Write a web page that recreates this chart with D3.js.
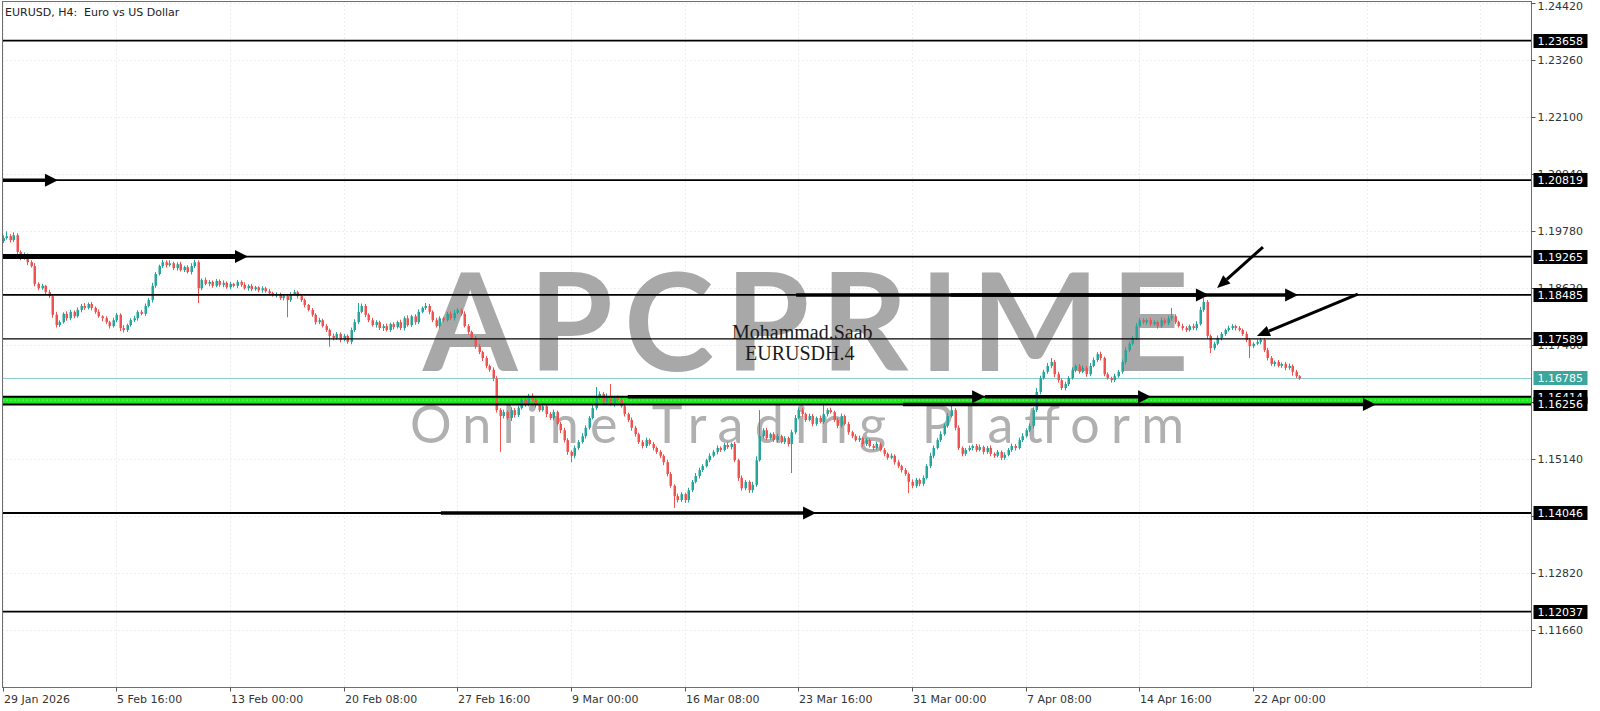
<!DOCTYPE html>
<html lang="en">
<head>
  <meta charset="UTF-8">
  <title>EURUSD H4</title>
  <script src="https://d3js.org/d3.v7.min.js"></script>
  <style>
    body { margin: 0; background: #fff; }
    svg { display: block; }
    text { font-family: "DejaVu Sans", sans-serif; }
  </style>
</head>
<body>
<svg width="1600" height="711"></svg>
<script>

  // closes of the H4 bars, first bar 29 Jan 08:00
  var firstOpen = 1.1958;
  var closes = [
    1.1964,1.1968,1.1960,1.1970,1.1936,1.1924,1.1930,1.1915,1.1907,1.1871,1.1862,1.1867,1.1854,1.1846,1.1808,1.1787,1.1793,1.1810,1.1801,1.1814,
    1.1805,1.1818,1.1826,1.1822,1.1830,1.1822,1.1814,1.1805,1.1801,1.1793,1.1785,1.1797,1.1808,1.1781,1.1777,1.1787,1.1797,1.1801,1.1814,1.1810,
    1.1826,1.1838,1.1867,1.1891,1.1907,1.1915,1.1909,1.1913,1.1903,1.1911,1.1899,1.1905,1.1895,1.1907,1.1915,1.1862,1.1879,1.1871,1.1875,1.1867,
    1.1877,1.1869,1.1873,1.1864,1.1871,1.1867,1.1875,1.1869,1.1862,1.1867,1.1860,1.1864,1.1858,1.1862,1.1856,1.1852,1.1848,1.1850,1.1842,1.1846,
    1.1838,1.1850,1.1854,1.1846,1.1838,1.1828,1.1818,1.1808,1.1793,1.1797,1.1785,1.1777,1.1765,1.1761,1.1769,1.1757,1.1765,1.1753,1.1777,1.1793,
    1.1814,1.1826,1.1808,1.1797,1.1787,1.1793,1.1781,1.1785,1.1777,1.1789,1.1783,1.1793,1.1781,1.1801,1.1787,1.1805,1.1793,1.1814,1.1822,1.1826,
    1.1814,1.1797,1.1785,1.1801,1.1797,1.1810,1.1801,1.1812,1.1818,1.1810,1.1785,1.1773,1.1761,1.1744,1.1732,1.1720,1.1704,1.1696,1.1679,1.1614,
    1.1602,1.1610,1.1598,1.1614,1.1604,1.1618,1.1635,1.1626,1.1643,1.1635,1.1624,1.1614,1.1622,1.1606,1.1598,1.1610,1.1586,1.1573,1.1553,1.1529,
    1.1521,1.1537,1.1549,1.1561,1.1578,1.1598,1.1618,1.1639,1.1647,1.1630,1.1643,1.1626,1.1639,1.1635,1.1622,1.1606,1.1594,1.1578,1.1565,1.1549,
    1.1541,1.1553,1.1545,1.1537,1.1529,1.1521,1.1508,1.1484,1.1460,1.1439,1.1431,1.1443,1.1431,1.1451,1.1468,1.1480,1.1492,1.1500,1.1512,1.1521,
    1.1529,1.1537,1.1533,1.1543,1.1539,1.1545,1.1512,1.1476,1.1455,1.1468,1.1451,1.1462,1.1512,1.1561,1.1573,1.1557,1.1565,1.1553,1.1561,1.1549,
    1.1557,1.1545,1.1569,1.1598,1.1614,1.1606,1.1594,1.1602,1.1586,1.1598,1.1590,1.1606,1.1614,1.1610,1.1594,1.1582,1.1602,1.1586,1.1569,1.1561,
    1.1553,1.1557,1.1545,1.1553,1.1541,1.1537,1.1545,1.1533,1.1525,1.1517,1.1521,1.1508,1.1500,1.1492,1.1484,1.1468,1.1460,1.1472,1.1464,1.1476,
    1.1500,1.1521,1.1537,1.1553,1.1565,1.1582,1.1602,1.1614,1.1578,1.1537,1.1525,1.1533,1.1537,1.1541,1.1533,1.1539,1.1529,1.1537,1.1525,1.1521,
    1.1529,1.1517,1.1523,1.1533,1.1541,1.1537,1.1553,1.1561,1.1573,1.1582,1.1614,1.1651,1.1679,1.1692,1.1704,1.1712,1.1687,1.1675,1.1659,1.1667,
    1.1679,1.1696,1.1704,1.1692,1.1700,1.1687,1.1704,1.1716,1.1728,1.1720,1.1687,1.1679,1.1675,1.1683,1.1692,1.1712,1.1736,1.1749,1.1761,1.1785,
    1.1797,1.1793,1.1797,1.1789,1.1793,1.1785,1.1797,1.1791,1.1801,1.1805,1.1793,1.1785,1.1781,1.1777,1.1785,1.1781,1.1789,1.1818,1.1834,1.1765,
    1.1740,1.1749,1.1761,1.1769,1.1777,1.1781,1.1785,1.1781,1.1777,1.1769,1.1757,1.1744,1.1749,1.1753,1.1757,1.1736,1.1720,1.1708,1.1712,1.1704,
    1.1708,1.1700,1.1704,1.1692,1.1683,1.16785
  ];

  // wicks above / below the body, in pips
  var wickUp = [
    6,10,4,6,4,3,5,3,4,6,3,4,2,5,3,6,4,3,5,4,
    3,5,4,6,3,4,3,5,2,4,3,5,4,3,6,3,4,5,3,4,
    5,4,6,4,3,5,4,6,3,4,5,3,4,6,5,4,3,5,4,3,
    4,3,5,3,4,2,4,3,5,3,4,3,2,4,3,5,3,4,3,4,
    3,4,5,3,4,3,2,4,3,5,3,4,3,5,4,3,4,3,5,6,
    18,5,4,3,5,4,3,4,5,3,4,3,5,4,6,3,4,5,3,6,
    4,3,5,4,3,4,5,6,4,3,5,4,3,4,5,3,4,3,5,4,
    4,5,3,6,4,5,3,6,4,5,3,4,5,3,4,5,3,4,5,4,
    3,5,4,6,5,4,6,22,5,4,5,24,4,5,3,4,3,5,4,3,
    4,5,3,4,3,4,3,5,4,3,5,4,3,5,4,6,5,4,3,5,
    4,5,3,4,5,3,4,3,5,4,3,6,8,53,4,5,3,4,5,3,
    4,3,5,6,5,4,3,5,4,3,5,22,4,5,3,4,5,3,4,3,
    4,5,3,4,3,4,5,3,4,3,5,3,4,3,4,3,5,4,3,5,
    4,6,5,4,6,5,6,14,4,5,3,4,5,3,4,5,3,4,5,3,
    4,3,5,4,5,4,5,6,4,5,6,8,5,4,6,8,4,5,3,5,
    4,5,3,4,5,4,6,5,4,5,3,4,3,5,4,5,6,5,4,6,
    5,4,3,5,4,3,6,4,5,17,4,3,5,4,3,5,6,6,8,4,
    3,4,5,4,3,5,4,3,4,3,5,4,3,5,4,3,5,4,3,4,
    3,4,5,3,4,2
  ];
  var wickDown = [
    4,3,5,4,6,5,4,6,3,5,4,3,5,4,6,5,4,3,5,4,
    4,3,5,4,3,5,4,3,6,4,5,3,4,6,5,4,3,4,5,3,
    4,3,5,4,3,4,5,3,4,5,3,4,3,5,4,30,4,3,5,4,
    3,4,5,3,4,3,5,4,3,5,4,3,4,5,3,4,3,5,4,5,
    35,4,3,5,4,5,3,4,5,4,3,4,22,5,4,5,3,4,5,4,
    4,3,5,4,3,5,4,6,3,4,5,3,4,5,3,4,5,4,3,4,
    5,4,3,5,4,3,4,5,3,4,3,5,4,5,4,6,5,4,6,5,
    73,5,4,6,5,4,3,5,4,3,5,4,3,6,4,5,4,6,5,6,
    13,5,4,3,5,4,3,4,5,3,4,3,5,4,3,5,4,6,5,4,
    5,4,3,5,4,5,6,5,4,24,5,4,6,5,4,3,5,4,3,4,
    3,5,4,3,4,5,4,6,5,4,6,5,4,3,5,4,3,4,5,3,
    4,5,59,4,3,5,4,3,5,4,3,4,5,3,4,5,4,3,5,4,
    3,4,5,4,3,5,4,3,5,4,3,5,4,5,4,23,5,4,5,4,
    3,4,5,3,4,3,4,3,5,4,5,4,3,5,4,3,5,4,5,4,
    3,5,4,3,4,5,3,4,3,4,5,4,5,3,4,5,6,5,4,5,
    4,3,5,4,3,5,4,3,4,5,4,3,5,4,3,4,5,4,3,4,
    3,4,5,4,3,5,4,3,4,5,4,3,5,4,3,4,5,3,4,5,
    10,4,3,5,4,3,4,5,3,4,5,24,4,3,5,4,5,4,5,3,
    4,5,4,8,4,3
  ];

  // time axis labels, one every 32 bars
  var timeLabels = ["29 Jan 2026", "5 Feb 16:00", "13 Feb 00:00", "20 Feb 08:00", "27 Feb 16:00", "9 Mar 00:00",
    "16 Mar 08:00", "23 Mar 16:00", "31 Mar 00:00", "7 Apr 08:00", "14 Apr 16:00", "22 Apr 00:00"];
  var priceTicks = [1.24420, 1.23260, 1.22100, 1.20940, 1.19780, 1.18620, 1.17460, 1.16300, 1.15140, 1.13980, 1.12820, 1.11660];

  // horizontal levels drawn on the chart
  var levels = [1.23658, 1.20819, 1.19265, 1.18485, 1.17589, 1.14046, 1.12037];
  var zone = [1.16414, 1.16256];
  var lastPrice = 1.16785;

  // arrows: [from bar, to bar, price]
  var hArrows = [
    [-1, 15.6, 1.20819],
    [-1, 69.1, 1.19265],
    [223.4, 339.6, 1.18485],
    [267, 364.7, 1.18485],
    [176, 276.6, 1.16414],
    [276.6, 323.3, 1.16414],
    [253.5, 386.6, 1.16256],
    [123.4, 229, 1.14046]
  ];
  // diagonal arrows: [from bar, from price, to bar, to price]
  var dArrows = [
    [354.8, 1.19459, 341.9, 1.18625],
    [381.5, 1.18503, 353.1, 1.17648]
  ];

  var svg = d3.select('svg');
  var L = 2.5, R = 1531.5, T = 1.5, B = 687.5;

  var x = d3.scaleLinear().domain([0, 352]).range([2.5, 1253]);
  var y = d3.scaleLinear().domain([1.10505, 1.24446]).range([687, 2]);

  svg.append('defs').append('clipPath').attr('id', 'clip')
    .append('rect').attr('x', L).attr('y', T).attr('width', R - L).attr('height', B - T);

  var g = svg.append('g').attr('clip-path', 'url(#clip)');

  //grid
  var vIdx = d3.range(0, 14).map(function (k) { return k * 32; });
  g.append('g').selectAll('line').data(vIdx).enter().append('line')
    .attr('x1', function (d) { return Math.round(x(d)) + 0.5; })
    .attr('x2', function (d) { return Math.round(x(d)) + 0.5; })
    .attr('y1', T).attr('y2', B)
    .attr('stroke', '#dcdcdc').attr('stroke-dasharray', '1,3');
  g.append('g').selectAll('line').data(priceTicks).enter().append('line')
    .attr('x1', L).attr('x2', R)
    .attr('y1', function (d) { return Math.round(y(d)) + 0.5; })
    .attr('y2', function (d) { return Math.round(y(d)) + 0.5; })
    .attr('stroke', '#dcdcdc').attr('stroke-dasharray', '1,3');

  //watermark
  g.append('text').text('APCPRIME')
    .attr('x', 423).attr('y', 371)
    .attr('textLength', 766).attr('lengthAdjust', 'spacing')
    .style('font-family', 'Lato, "Open Sans", sans-serif')
    .style('font-weight', 700).style('font-size', '136px')
    .attr('fill', '#a8a8a8');
  g.append('text').text('Online Trading Platform')
    .attr('x', 410).attr('y', 443)
    .attr('textLength', 774).attr('lengthAdjust', 'spacing')
    .style('font-family', 'Lato, "Open Sans", sans-serif')
    .style('font-weight', 400).style('font-size', '52px')
    .attr('fill', '#b0b0b0');

  //green zone
  g.append('rect')
    .attr('x', L).attr('width', R - L)
    .attr('y', y(zone[0])).attr('height', y(zone[1]) - y(zone[0]))
    .attr('fill', '#1ee81e');
  g.append('line').attr('x1', L).attr('x2', R)
    .attr('y1', y(zone[0]) + 3.5).attr('y2', y(zone[0]) + 3.5)
    .attr('stroke', '#fff').attr('stroke-opacity', 0.7).attr('stroke-dasharray', '1,3');

  //price line
  g.append('line').attr('x1', L).attr('x2', R)
    .attr('y1', Math.round(y(lastPrice)) + 0.5).attr('y2', Math.round(y(lastPrice)) + 0.5)
    .attr('stroke', '#8ccfca');

  //candles
  var bars = closes.map(function (c, i) {
    var o = i ? closes[i - 1] : firstOpen;
    return {
      i: i, open: o, close: c,
      high: Math.max(o, c) + (wickUp[i] || 3) * 0.0001,
      low: Math.min(o, c) - (wickDown[i] || 3) * 0.0001
    };
  });
  var cg = g.append('g').selectAll('g').data(bars).enter().append('g')
    .attr('fill', function (d) { return d.close >= d.open ? '#26a69a' : '#ef5350'; })
    .attr('stroke', function (d) { return d.close >= d.open ? '#26a69a' : '#ef5350'; });
  cg.append('line')
    .attr('x1', function (d) { return Math.round(x(d.i)) + 0.5; })
    .attr('x2', function (d) { return Math.round(x(d.i)) + 0.5; })
    .attr('y1', function (d) { return y(d.high); })
    .attr('y2', function (d) { return y(d.low); });
  cg.append('rect')
    .attr('stroke', 'none')
    .attr('x', function (d) { return Math.round(x(d.i)) - 0.5; })
    .attr('width', 2.5)
    .attr('y', function (d) { return y(Math.max(d.open, d.close)); })
    .attr('height', function (d) { return Math.max(1, Math.abs(y(d.open) - y(d.close))); });

  //levels
  g.append('g').selectAll('line').data(levels).enter().append('line')
    .attr('x1', L).attr('x2', R)
    .attr('y1', function (d) { return y(d); })
    .attr('y2', function (d) { return y(d); })
    .attr('stroke', '#000')
    .attr('stroke-width', function (d) { return d === 1.17589 ? 1.2 : 1.8; });
  g.append('g').selectAll('line').data(zone).enter().append('line')
    .attr('x1', L).attr('x2', R)
    .attr('y1', function (d) { return y(d); })
    .attr('y2', function (d) { return y(d); })
    .attr('stroke', '#000').attr('stroke-width', 2);

  //arrows
  hArrows.forEach(function (a) {
    var x1 = x(a[0]), x2 = x(a[1]), yy = y(a[2]);
    var w = a[2] === 1.19265 ? 5 : 3.5;
    var hl = 13, hw = 6.5;
    g.append('line').attr('x1', x1).attr('x2', x2 - hl + 1)
      .attr('y1', yy).attr('y2', yy)
      .attr('stroke', '#000').attr('stroke-width', w);
    g.append('path')
      .attr('d', 'M' + x2 + ',' + yy + 'L' + (x2 - hl) + ',' + (yy - hw) + 'L' + (x2 - hl) + ',' + (yy + hw) + 'Z')
      .attr('fill', '#000');
  });
  dArrows.forEach(function (a) {
    var x1 = x(a[0]), y1 = y(a[1]), x2 = x(a[2]), y2 = y(a[3]);
    var ang = Math.atan2(y2 - y1, x2 - x1), hl = 13, hw = 5.5;
    var bx = x2 - hl * Math.cos(ang), by = y2 - hl * Math.sin(ang);
    g.append('line').attr('x1', x1).attr('y1', y1).attr('x2', bx).attr('y2', by)
      .attr('stroke', '#000').attr('stroke-width', 3);
    g.append('path')
      .attr('d', 'M' + x2 + ',' + y2 +
        'L' + (bx + hw * Math.sin(ang)) + ',' + (by - hw * Math.cos(ang)) +
        'L' + (bx - hw * Math.sin(ang)) + ',' + (by + hw * Math.cos(ang)) + 'Z')
      .attr('fill', '#000');
  });

  //signature text
  g.append('text').text('Mohammad.Saab').attr('x', 732).attr('y', 339)
    .style('font-family', '"Liberation Serif", serif').style('font-size', '20px').attr('fill', '#1a1a1a');
  g.append('text').text('EURUSDH.4').attr('x', 745).attr('y', 360)
    .style('font-family', '"Liberation Serif", serif').style('font-size', '20px').attr('fill', '#1a1a1a');

  //frame
  svg.append('rect').attr('x', L).attr('y', T).attr('width', R - L).attr('height', B - T)
    .attr('fill', 'none').attr('stroke', '#6e6e6e');

  //title
  svg.append('text').text('EURUSD, H4:  Euro vs US Dollar')
    .attr('x', 5).attr('y', 16).style('font-size', '11px').style('white-space', 'pre').attr('fill', '#222');

  //price axis
  var ax = svg.append('g');
  ax.selectAll('line').data(priceTicks).enter().append('line')
    .attr('x1', R).attr('x2', R + 4)
    .attr('y1', function (d) { return Math.round(y(d)) + 0.5; })
    .attr('y2', function (d) { return Math.round(y(d)) + 0.5; })
    .attr('stroke', '#555');
  ax.selectAll('text').data(priceTicks).enter().append('text')
    .attr('x', R + 6).attr('y', function (d) { return Math.max(10, y(d) + 4); })
    .text(function (d) { return d.toFixed(5); })
    .style('font-size', '11px').attr('fill', '#333');

  //level boxes
  var boxes = levels.concat(zone).map(function (v) { return { v: v, bg: '#000' }; });
  boxes.push({ v: lastPrice, bg: '#3aa69c' });
  boxes.sort(function (a, b) { return b.v - a.v; });
  var bg = svg.append('g').selectAll('g').data(boxes).enter().append('g');
  bg.append('rect')
    .attr('x', R + 2).attr('width', 54)
    .attr('y', function (d) { return Math.round(y(d.v)) - 7; }).attr('height', 14)
    .attr('fill', function (d) { return d.bg; });
  bg.append('text')
    .attr('x', R + 6).attr('y', function (d) { return Math.round(y(d.v)) + 4; })
    .text(function (d) { return d.v.toFixed(5); })
    .style('font-size', '11px').attr('fill', '#fff');

  //time axis
  var tx = svg.append('g');
  tx.selectAll('line').data(timeLabels).enter().append('line')
    .attr('x1', function (d, i) { return Math.round(x(i * 32)) + 0.5; })
    .attr('x2', function (d, i) { return Math.round(x(i * 32)) + 0.5; })
    .attr('y1', B).attr('y2', B + 4).attr('stroke', '#555');
  tx.selectAll('text').data(timeLabels).enter().append('text')
    .attr('x', function (d, i) { return Math.round(x(i * 32)) + 1; })
    .attr('y', 703)
    .text(function (d) { return d; })
    .style('font-size', '11px').attr('fill', '#333');

</script>
</body>
</html>
